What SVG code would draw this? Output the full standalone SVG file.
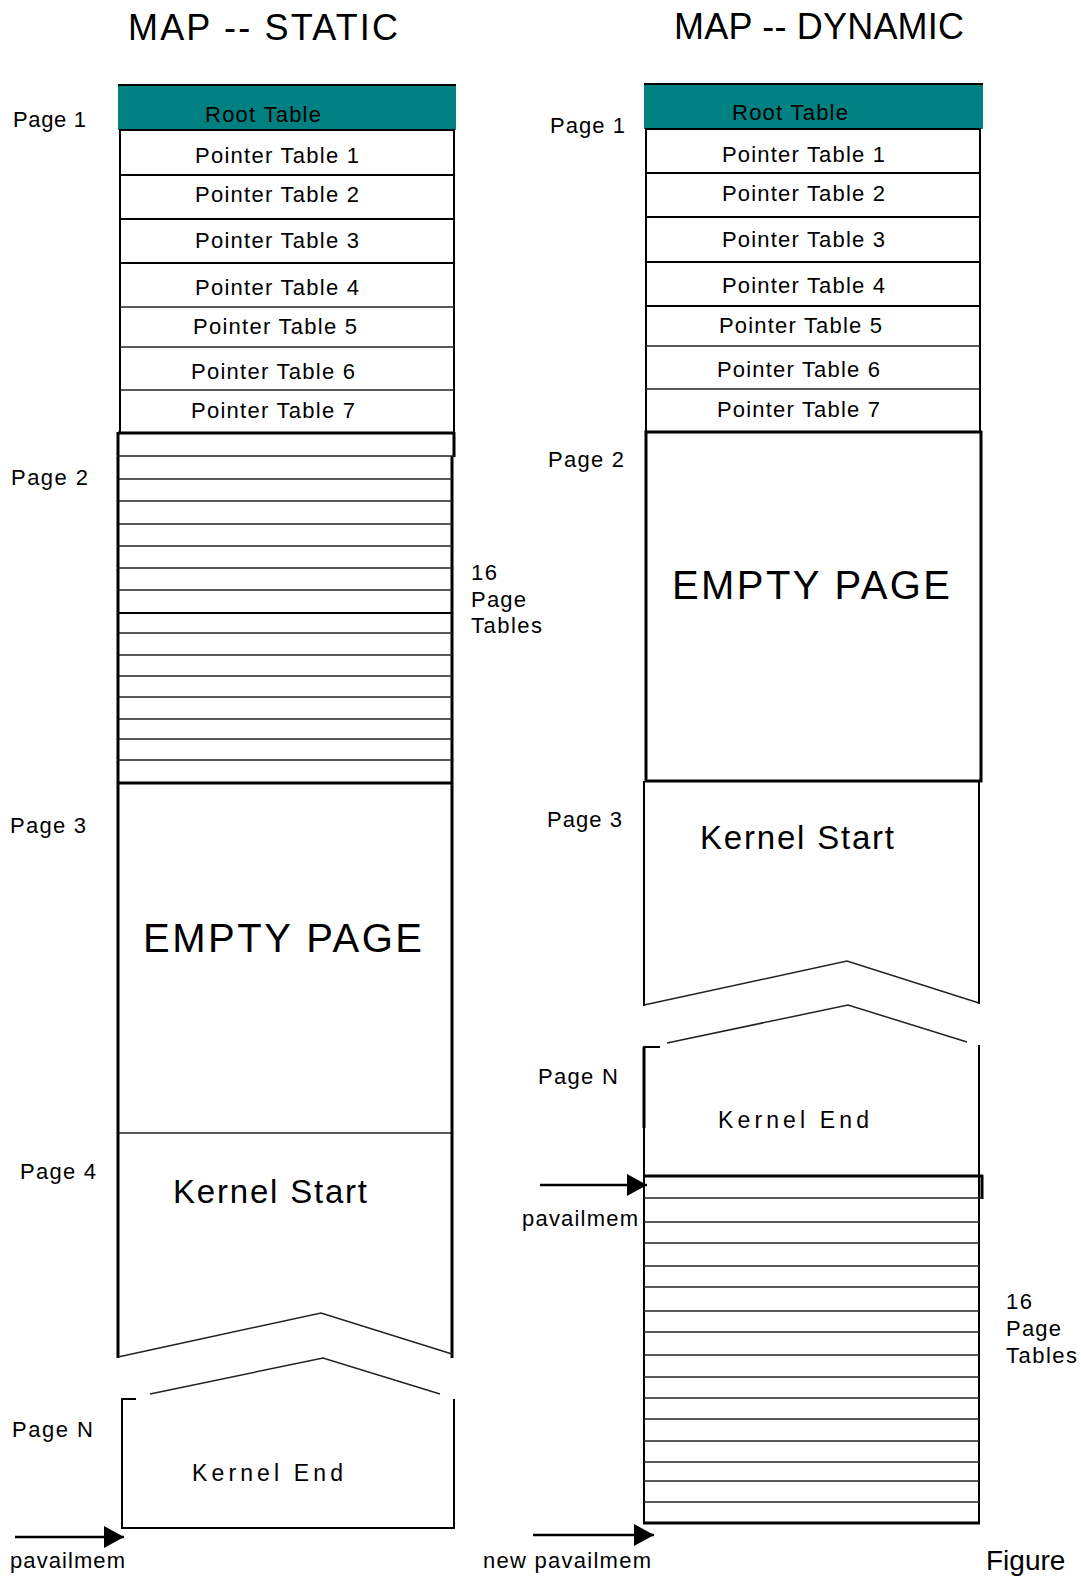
<svg xmlns="http://www.w3.org/2000/svg" width="1081" height="1577" viewBox="0 0 1081 1577">
<style>
text{font-family:"Liberation Sans",Arial,sans-serif;fill:#000}
.lbl{font-size:22px}
.title{font-size:36px}
.big{font-size:40px}
.ks{font-size:33px}
.ke{font-size:23px}
.fig{font-size:28px}
.thin{stroke:#222;stroke-width:1.5;fill:none}
.med{stroke:#000;stroke-width:2;fill:none}
.thick{stroke:#000;stroke-width:3;fill:none}
.teal{fill:#008080}
.box{fill:#fff;stroke:#000;stroke-width:2}
</style>
<defs>
<marker id="ah" markerUnits="userSpaceOnUse" markerWidth="22" markerHeight="24" refX="20" refY="11" orient="auto">
<path d="M0,0 L20,11 L0,22 Z" fill="#000"/>
</marker>
</defs>
<rect width="1081" height="1577" fill="#fff"/>

<!-- LEFT: MAP STATIC -->
<g id="title-static"><text class="title" x="128" y="40" textLength="270" lengthAdjust="spacing">MAP -- STATIC</text></g>

<g id="static-page1">
<text class="lbl" x="13" y="127" textLength="73" lengthAdjust="spacing">Page 1</text>
<rect class="teal" x="118" y="84" width="338" height="46"/>
<line class="med" x1="118" y1="85" x2="456" y2="85"/>
<text class="lbl" x="205" y="122" textLength="116" lengthAdjust="spacing">Root Table</text>
<rect class="box" x="120" y="130" width="334" height="303"/>
<line class="med" x1="120" y1="175" x2="454" y2="175"/>
<line class="med" x1="120" y1="219" x2="454" y2="219"/>
<line class="med" x1="120" y1="263" x2="454" y2="263"/>
<line class="thin" x1="120" y1="307" x2="454" y2="307"/>
<line class="thin" x1="120" y1="347" x2="454" y2="347"/>
<line class="thin" x1="120" y1="390" x2="454" y2="390"/>
<text class="lbl" x="195" y="163" textLength="164" lengthAdjust="spacing">Pointer Table 1</text>
<text class="lbl" x="195" y="202" textLength="164" lengthAdjust="spacing">Pointer Table 2</text>
<text class="lbl" x="195" y="248" textLength="164" lengthAdjust="spacing">Pointer Table 3</text>
<text class="lbl" x="195" y="295" textLength="164" lengthAdjust="spacing">Pointer Table 4</text>
<text class="lbl" x="193" y="334" textLength="164" lengthAdjust="spacing">Pointer Table 5</text>
<text class="lbl" x="191" y="379" textLength="164" lengthAdjust="spacing">Pointer Table 6</text>
<text class="lbl" x="191" y="418" textLength="164" lengthAdjust="spacing">Pointer Table 7</text>
</g>

<g id="static-page2">
<text class="lbl" x="11" y="485" textLength="77" lengthAdjust="spacing">Page 2</text>
<line class="thick" x1="118" y1="433" x2="455" y2="433"/>
<line class="thick" x1="454" y1="432" x2="454" y2="457"/>
<line class="thick" x1="452" y1="456" x2="452" y2="783"/>
<line class="thin" x1="118" y1="456" x2="454" y2="456"/>
<line class="thin" x1="118" y1="479" x2="452" y2="479"/>
<line class="thin" x1="118" y1="501" x2="452" y2="501"/>
<line class="thin" x1="118" y1="524" x2="452" y2="524"/>
<line class="thin" x1="118" y1="546" x2="452" y2="546"/>
<line class="thin" x1="118" y1="568" x2="452" y2="568"/>
<line class="thin" x1="118" y1="590" x2="452" y2="590"/>
<line class="med" x1="118" y1="613" x2="452" y2="613"/>
<line class="thin" x1="118" y1="633" x2="452" y2="633"/>
<line class="thin" x1="118" y1="655" x2="452" y2="655"/>
<line class="thin" x1="118" y1="676" x2="452" y2="676"/>
<line class="thin" x1="118" y1="697" x2="452" y2="697"/>
<line class="thin" x1="118" y1="719" x2="452" y2="719"/>
<line class="thin" x1="118" y1="739" x2="452" y2="739"/>
<line class="thin" x1="118" y1="760" x2="452" y2="760"/>
<line class="thick" x1="118" y1="783" x2="453" y2="783"/>
<text class="lbl" x="471" y="580" textLength="26" lengthAdjust="spacing">16</text>
<text class="lbl" x="471" y="607" textLength="55" lengthAdjust="spacing">Page</text>
<text class="lbl" x="471" y="633" textLength="71" lengthAdjust="spacing">Tables</text>
</g>

<g id="static-page3">
<text class="lbl" x="10" y="833" textLength="76" lengthAdjust="spacing">Page 3</text>
<text class="big" x="143" y="952" textLength="279" lengthAdjust="spacing">EMPTY PAGE</text>
<line class="thin" x1="118" y1="1133" x2="452" y2="1133"/>
</g>

<g id="static-page4">
<text class="lbl" x="20" y="1179" textLength="76" lengthAdjust="spacing">Page 4</text>
<text class="ks" x="173" y="1203" textLength="194" lengthAdjust="spacing">Kernel Start</text>
<line class="thick" x1="118" y1="432" x2="118" y2="1358"/>
<line class="thick" x1="452" y1="783" x2="452" y2="1358"/>
<path class="thin" d="M118,1357 L321,1313 L452,1354"/>
</g>

<g id="static-pageN">
<text class="lbl" x="12" y="1437" textLength="81" lengthAdjust="spacing">Page N</text>
<path class="thin" d="M150,1394 L323,1358 L440,1394"/>
<path class="med" d="M136,1399 H122 V1528 H454 V1399"/>
<text class="ke" x="192" y="1481" textLength="151" lengthAdjust="spacing">Kernel End</text>
<text class="lbl" x="10" y="1568" textLength="115" lengthAdjust="spacing">pavailmem</text>
</g>

<!-- RIGHT: MAP DYNAMIC -->
<g id="title-dynamic"><text class="title" x="674" y="39" textLength="290" lengthAdjust="spacing">MAP -- DYNAMIC</text></g>

<g id="dynamic-page1">
<text class="lbl" x="550" y="133" textLength="75" lengthAdjust="spacing">Page 1</text>
<rect class="teal" x="644" y="83" width="339" height="46"/>
<line class="med" x1="644" y1="84" x2="983" y2="84"/>
<text class="lbl" x="732" y="120" textLength="116" lengthAdjust="spacing">Root Table</text>
<rect class="box" x="646" y="129" width="334" height="303"/>
<line class="med" x1="646" y1="173" x2="980" y2="173"/>
<line class="med" x1="646" y1="217" x2="980" y2="217"/>
<line class="med" x1="646" y1="262" x2="980" y2="262"/>
<line class="med" x1="646" y1="306" x2="980" y2="306"/>
<line class="thin" x1="646" y1="346" x2="980" y2="346"/>
<line class="thin" x1="646" y1="389" x2="980" y2="389"/>
<text class="lbl" x="722" y="162" textLength="163" lengthAdjust="spacing">Pointer Table 1</text>
<text class="lbl" x="722" y="201" textLength="163" lengthAdjust="spacing">Pointer Table 2</text>
<text class="lbl" x="722" y="247" textLength="163" lengthAdjust="spacing">Pointer Table 3</text>
<text class="lbl" x="722" y="293" textLength="163" lengthAdjust="spacing">Pointer Table 4</text>
<text class="lbl" x="719" y="333" textLength="163" lengthAdjust="spacing">Pointer Table 5</text>
<text class="lbl" x="717" y="377" textLength="163" lengthAdjust="spacing">Pointer Table 6</text>
<text class="lbl" x="717" y="417" textLength="163" lengthAdjust="spacing">Pointer Table 7</text>
</g>

<g id="dynamic-page2">
<text class="lbl" x="548" y="467" textLength="76" lengthAdjust="spacing">Page 2</text>
<rect x="646" y="432" width="335" height="349" fill="none" stroke="#000" stroke-width="3"/>
<text class="big" x="672" y="599" textLength="278" lengthAdjust="spacing">EMPTY PAGE</text>
</g>

<g id="dynamic-page3">
<text class="lbl" x="547" y="827" textLength="75" lengthAdjust="spacing">Page 3</text>
<path class="med" d="M644,781 V1006"/>
<path class="med" d="M979,781 V1004"/>
<path class="thin" d="M644,1005 L847,961 L979,1003"/>
<text class="ks" x="700" y="849" textLength="194" lengthAdjust="spacing">Kernel Start</text>
</g>

<g id="dynamic-pageN">
<text class="lbl" x="538" y="1084" textLength="80" lengthAdjust="spacing">Page N</text>
<path class="thin" d="M667,1043 L848,1005 L967,1042"/>
<path class="med" d="M660,1047 H644 V1523 H979 V1045"/>
<line class="thick" x1="644" y1="1047" x2="644" y2="1128"/>
<text class="ke" x="718" y="1128" textLength="151" lengthAdjust="spacing">Kernel End</text>
<text class="lbl" x="522" y="1226" textLength="116" lengthAdjust="spacing">pavailmem</text>
</g>

<g id="dynamic-pagetables">
<line class="thick" x1="644" y1="1176" x2="983" y2="1176"/>
<line class="thick" x1="982" y1="1175" x2="982" y2="1199"/>
<line class="thin" x1="644" y1="1198" x2="982" y2="1198"/>
<line class="thin" x1="644" y1="1222" x2="979" y2="1222"/>
<line class="thin" x1="644" y1="1243" x2="979" y2="1243"/>
<line class="thin" x1="644" y1="1266" x2="979" y2="1266"/>
<line class="thin" x1="644" y1="1287" x2="979" y2="1287"/>
<line class="thin" x1="644" y1="1311" x2="979" y2="1311"/>
<line class="thin" x1="644" y1="1332" x2="979" y2="1332"/>
<line class="thin" x1="644" y1="1355" x2="979" y2="1355"/>
<line class="thin" x1="644" y1="1377" x2="979" y2="1377"/>
<line class="thin" x1="644" y1="1398" x2="979" y2="1398"/>
<line class="thin" x1="644" y1="1419" x2="979" y2="1419"/>
<line class="thin" x1="644" y1="1441" x2="979" y2="1441"/>
<line class="thin" x1="644" y1="1462" x2="979" y2="1462"/>
<line class="thin" x1="644" y1="1481" x2="979" y2="1481"/>
<line class="thin" x1="644" y1="1502" x2="979" y2="1502"/>
<line class="thick" x1="643" y1="1523" x2="980" y2="1523"/>
<text class="lbl" x="1006" y="1309" textLength="26" lengthAdjust="spacing">16</text>
<text class="lbl" x="1006" y="1336" textLength="55" lengthAdjust="spacing">Page</text>
<text class="lbl" x="1006" y="1363" textLength="71" lengthAdjust="spacing">Tables</text>
<text class="lbl" x="483" y="1568" textLength="168" lengthAdjust="spacing">new pavailmem</text>
</g>

<g id="figure-caption"><text class="fig" x="986" y="1570">Figure</text></g>

<g id="connectors">
<line x1="15" y1="1537" x2="124" y2="1537" stroke="#000" stroke-width="2.5" marker-end="url(#ah)"/>
<line x1="540" y1="1185" x2="647" y2="1185" stroke="#000" stroke-width="2.5" marker-end="url(#ah)"/>
<line x1="533" y1="1535" x2="654" y2="1535" stroke="#000" stroke-width="2.5" marker-end="url(#ah)"/>
</g>
</svg>
